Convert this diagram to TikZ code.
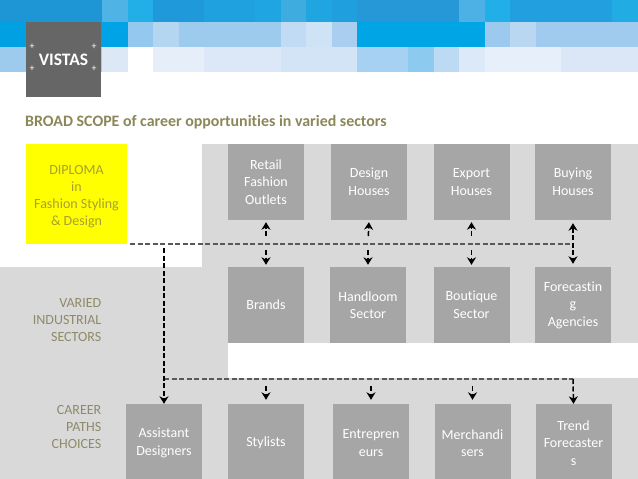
\documentclass[tikz,border=0pt]{standalone}
\usepackage{fontspec}
\setmainfont[Ligatures={NoCommon}]{Carlito}
\usetikzlibrary{arrows.meta}
\definecolor{bandgrey}{HTML}{D9D9D9}
\definecolor{boxgrey}{HTML}{A6A6A6}
\definecolor{logogrey}{HTML}{666666}
\definecolor{olivetxt}{HTML}{8B8759}
\definecolor{sidetxt}{HTML}{8E8B68}
\definecolor{diptxt}{HTML}{A8A030}
\definecolor{dashgrey}{HTML}{595959}
\definecolor{pureyellow}{HTML}{FFFF00}
\newcommand{\mos}[4]{\fill[fill=#4] ({#1*25.52},#2) rectangle ({(#1+1)*25.52+0.3},#3);}
\tikzset{
  x=1pt,y=-1pt,
  card/.style={fill=boxgrey,text=white,minimum width=76pt,minimum height=76pt,inner sep=0pt,align=center,font=\fontsize{14}{17.6}\selectfont},
  lowcard/.style={card,minimum height=78pt},
  side/.style={text=sidetxt,align=right,anchor=east,inner sep=0pt,font=\fontsize{14}{17.3}\selectfont},
  trunkg/.style={draw=dashgrey,line width=1.4pt,dash pattern=on 5pt off 2.5pt},
  trunkb/.style={draw=black,line width=1.5pt,dash pattern=on 5pt off 2.5pt,-{Stealth[length=7.5pt,width=9pt]}},
  shortarr/.style={draw=black,line width=1.5pt,dash pattern=on 5pt off 2.5pt,-{Stealth[length=7.5pt,width=9pt]}},
}
\begin{document}
\begin{tikzpicture}
\useasboundingbox (0,0) rectangle (638,479);
\fill[white] (0,0) rectangle (638,479);
% mosaic
\foreach \c/\k in {0/1E96D6,1/1E96D6,2/1E96D6,3/1E96D6,4/4FB3E5,5/22AEE6,6/2099DA,7/2099DA,8/1FA0DF,9/1FA0DF,10/1FA5E1,11/3FACDF,12/1FA5E0,13/1F9FDD,14/2698D8,15/2698D8,16/2698D8,17/2698D8,18/4DB1E6,19/22AFE7,20/229FDF,21/229FDF,22/229FDF,23/229FDF,24/22ACE4}{
  \definecolor{mc}{HTML}{\k}\mos{\c}{0}{22}{mc}}
\foreach \c/\k in {0/00A0E3,1/00A0E3,2/00A0E3,3/00A0E3,4/00A3E6,5/94C8EE,6/B5D6F1,7/9CCBEE,8/9CCBEE,9/9CCBEE,10/9CCBEE,11/C0DBF3,12/CFE3F6,13/A9CEF0,14/00A5E6,15/00A5E6,16/00A5E6,17/00A5E6,18/00A5E6,19/9CCAEE,20/BAD7F2,21/A0CBEF,22/A0CBEF,23/A0CBEF,24/A0CBEF}{
  \definecolor{mc}{HTML}{\k}\mos{\c}{22}{47}{mc}}
\foreach \c/\k in {0/9CCBEE,1/9CCBEE,2/9CCBEE,3/9CCBEE,4/DCE8F6,5/FFFFFF,6/E5EEF9,7/E5EEF9,8/DCE8F8,9/DCE8F8,10/DCE8F8,11/D3E4F7,12/D3E4F7,13/D3E4F7,14/A6D1F2,15/A6D1F2,16/8DCAF0,17/BCDAF4,18/DCE9F8,19/E6EFFA,20/E6EFFA,21/E6EFFA,22/DBE7F6,23/DBE7F6,24/DBE7F6}{
  \definecolor{mc}{HTML}{\k}\mos{\c}{47}{72}{mc}}
% logo
\node[fill=logogrey,minimum width=75.5pt,minimum height=75pt,inner sep=0pt,text=white,font=\fontsize{17.5}{17.5}\selectfont\bfseries] (logo) at (63.5,59.5) {VISTAS};
\foreach \p in {(32,47),(94,47),(32,69),(94,69)}{\node[text=white,inner sep=0pt,font=\fontsize{10}{10}\selectfont] at \p {+};}
% title
\node[anchor=west,inner sep=0pt,text=olivetxt,font=\fontsize{15.9}{17}\selectfont\bfseries] (title) at (25,122.5) {BROAD SCOPE of career opportunities in varied sectors};
% grey bands
\fill[bandgrey] (202,144) rectangle (638,343);
\fill[bandgrey] (0,267) rectangle (228,378);
\fill[bandgrey] (0,378) rectangle (638,479);
% yellow
\node[fill=pureyellow,minimum width=101pt,minimum height=100pt,inner sep=0pt] (dip) at (76.5,194) {};
\node[inner sep=0pt,align=center,text=diptxt,font=\fontsize{14}{17}\selectfont] (diptext) at (76.5,196.5) {DIPLOMA\\in\\Fashion Styling\\\&\ Design};
% row 1
\node[card] (retail) at (266,182) {Retail\\Fashion\\Outlets};
\node[card] (design) at (369,182) {Design\\Houses};
\node[card] (export) at (471.5,182) {Export\\Houses};
\node[card] (buying) at (573,182) {Buying\\Houses};
% row 2
\node[card] (brands) at (266,305) {Brands};
\node[card] (handloom) at (368,305) {Handloom\\Sector};
\node[card] (boutique) at (471.5,305) {Boutique\\Sector};
\node[card] (forecast) at (573,305) {Forecastin\\g\\Agencies};
% row 3
\node[lowcard] (assist) at (164,443) {Assistant\\Designers};
\node[lowcard] (stylists) at (266,443) {Stylists};
\node[lowcard] (entre) at (371,443) {Entrepren\\eurs};
\node[lowcard] (merch) at (472.5,443) {Merchandi\\sers};
\node[lowcard] (trend) at (573.5,443) {Trend\\Forecaster\\s};
% side labels
\node[side] (varied) at (101.5,320) {VARIED\\INDUSTRIAL\\SECTORS};
\node[side] (career) at (101.5,427) {CAREER\\PATHS\\CHOICES};
% connectors
\coordinate (hub) at (130,244);
\coordinate (tup) at (573,244);
\coordinate (low) at (164,379);
\coordinate (lowr) at (573,379);
\draw[trunkg] (hub) -- (tup);
\draw[trunkg] (low) -- (lowr);
\draw[trunkb] (164,248) -- (assist.north);
\draw[trunkb] (lowr) -- (trend.north);
\foreach \n/\s in {retail/brands,design/handloom,export/boutique}{
  \draw[shortarr,shorten >=2pt,shorten <=8pt] (\s.north |- hub) -- (\n.south);
  \draw[shortarr,shorten >=2pt,shorten <=6pt] (\s.north |- hub) -- (\s.north);
}
\draw[shortarr,shorten >=3pt,shorten <=3pt,{Stealth[length=7.5pt,width=9pt]}-{Stealth[length=7.5pt,width=9pt]}] (buying.south) -- (forecast.north);
\foreach \s in {stylists,entre,merch}{
  \draw[shortarr,shorten >=4pt,shorten <=7pt] (\s.north |- low) -- (\s.north);
}
\end{tikzpicture}
\end{document}
